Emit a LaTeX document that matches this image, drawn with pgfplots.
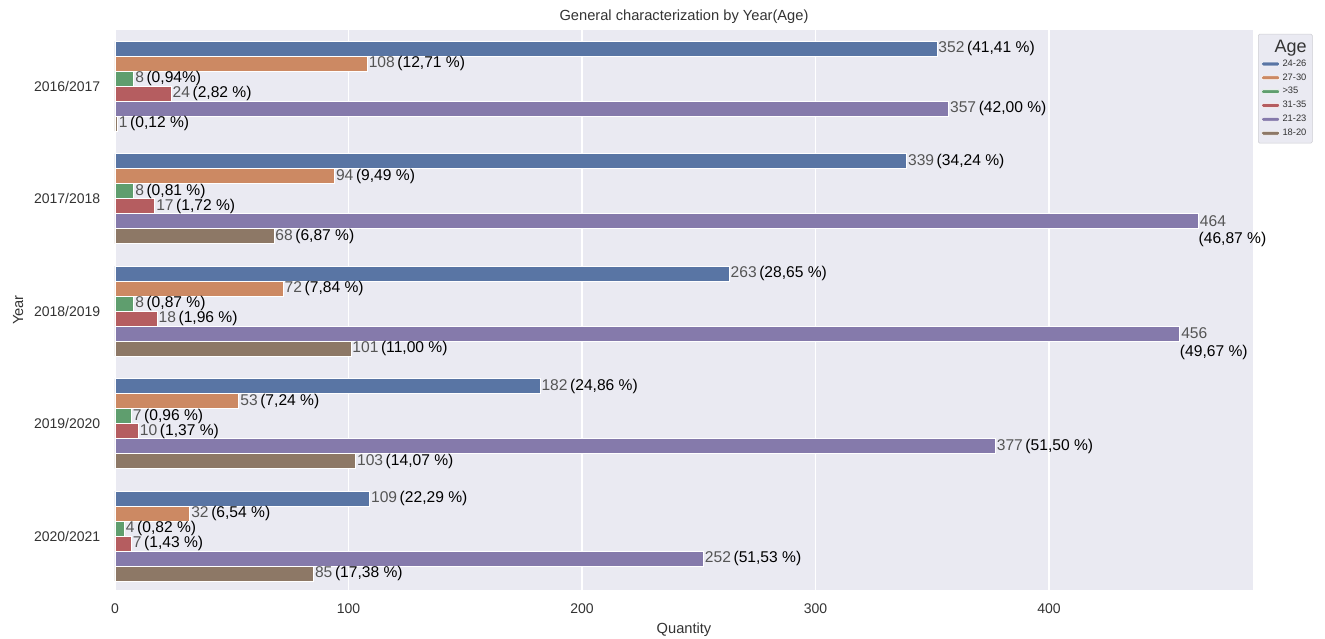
\documentclass[border=0pt]{standalone}
\usepackage{pgfplots}
\pgfplotsset{compat=1.18}
\usepackage{fontspec}
\setmainfont{Liberation Sans}

\definecolor{bg}{HTML}{EAEAF2}
\definecolor{txt}{HTML}{333333}
\definecolor{numgray}{HTML}{555555}
\definecolor{legedge}{HTML}{CDCDD2}
\definecolor{cA}{HTML}{5975A4}
\definecolor{cB}{HTML}{CC8963}
\definecolor{cC}{HTML}{5F9E6E}
\definecolor{cD}{HTML}{B55D60}
\definecolor{cE}{HTML}{857AAB}
\definecolor{cF}{HTML}{8D7866}

% bar labels: count in grey, share in black
\protected\def\lab#1#2{\textcolor{numgray}{#1}\,(#2 \%)}
\protected\def\labns#1#2{\textcolor{numgray}{#1}\,(#2\%)}
\protected\def\labb#1#2{\rlap{\raisebox{-1.1em}[0pt][0pt]{\hspace{-1pt}(#2 \%)}}\textcolor{numgray}{#1}}

\begin{document}
\begin{tikzpicture}
\useasboundingbox (-86.25pt,-36.75pt) rectangle (907.5pt,442.5pt);
\begin{axis}[
  scale only axis,
  width=853.5pt, height=420pt,
  xbar=0pt,
  bar width=0.1333,
  y dir=reverse,
  ymin=-0.5, ymax=4.48,
  xmin=0, xmax=487.4,
  ytick={0,1,2,3,4},
  yticklabels={2016/2017,2017/2018,2018/2019,2019/2020,2020/2021},
  xtick={0,100,200,300,400},
  /pgf/number format/assume math mode=true,
  axis background/.style={fill=bg},
  axis line style={draw=none},
  major tick length=0pt,
  xmajorgrids,
  grid style={white, line width=1.1pt},
  clip=false,
  tick label style={font=\fontsize{10.5}{12}\selectfont, text=txt},
  yticklabel style={xshift=-7.5pt},
  xticklabel style={yshift=-7pt},
  title={General characterization by Year(Age)},
  every axis title/.style={at={(axis description cs:0.5,1)}, anchor=center,
    yshift=10pt, font=\fontsize{11}{13}\selectfont, text=txt},
  xlabel={Quantity},
  ylabel={Year},
  every axis x label/.style={at={(axis description cs:0.5,0)}, anchor=center,
    yshift=-29.5pt, font=\fontsize{11}{13}\selectfont, text=txt},
  every axis y label/.style={at={(axis description cs:-0.085,0.5)}, anchor=center,
    rotate=90, font=\fontsize{11}{13}\selectfont, text=txt},
  point meta=explicit symbolic,
  nodes near coords={\pgfplotspointmeta},
  every node near coord/.append style={anchor=west, inner sep=1pt, text=black,
    font=\fontsize{11.7}{13.5}\selectfont},
  legend style={at={(axis description cs:1.0044,0.993)}, anchor=north west,
    fill=bg, draw=legedge, text=txt, rounded corners=1pt,
    font=\fontsize{7}{7.6}\selectfont, row sep=0pt, inner sep=2.3pt,
    cells={anchor=west}},
  lg/.style={legend image code/.code={\fill[##1] (0pt,-1.4pt) rectangle (13.5pt,1.4pt);}},
]
\addlegendimage{empty legend}

% 24-26
\addplot[fill=cA, draw=white, line width=0.4pt, lg] coordinates {
  (352,0) [\lab{352}{41,41}] (339,1) [\lab{339}{34,24}] (263,2) [\lab{263}{28,65}]
  (182,3) [\lab{182}{24,86}] (109,4) [\lab{109}{22,29}]};
% 27-30
\addplot[fill=cB, draw=white, line width=0.4pt, lg] coordinates {
  (108,0) [\lab{108}{12,71}] (94,1) [\lab{94}{9,49}] (72,2) [\lab{72}{7,84}]
  (53,3) [\lab{53}{7,24}] (32,4) [\lab{32}{6,54}]};
% >35
\addplot[fill=cC, draw=white, line width=0.4pt, lg] coordinates {
  (8,0) [\labns{8}{0,94}] (8,1) [\lab{8}{0,81}] (8,2) [\lab{8}{0,87}]
  (7,3) [\lab{7}{0,96}] (4,4) [\lab{4}{0,82}]};
% 31-35
\addplot[fill=cD, draw=white, line width=0.4pt, lg] coordinates {
  (24,0) [\lab{24}{2,82}] (17,1) [\lab{17}{1,72}] (18,2) [\lab{18}{1,96}]
  (10,3) [\lab{10}{1,37}] (7,4) [\lab{7}{1,43}]};
% 21-23
\addplot[fill=cE, draw=white, line width=0.4pt, lg] coordinates {
  (357,0) [\lab{357}{42,00}] (464,1) [\labb{464}{46,87}] (456,2) [\labb{456}{49,67}]
  (377,3) [\lab{377}{51,50}] (252,4) [\lab{252}{51,53}]};
% 18-20
\addplot[fill=cF, draw=white, line width=0.4pt, lg] coordinates {
  (1,0) [\lab{1}{0,12}] (68,1) [\lab{68}{6,87}] (101,2) [\lab{101}{11,00}]
  (103,3) [\lab{103}{14,07}] (85,4) [\lab{85}{17,38}]};

\legend{\hspace{-6pt}\fontsize{13.5}{15}\selectfont Age,24-26,27-30,>35,31-35,21-23,18-20}
\end{axis}
\end{tikzpicture}
\end{document}
